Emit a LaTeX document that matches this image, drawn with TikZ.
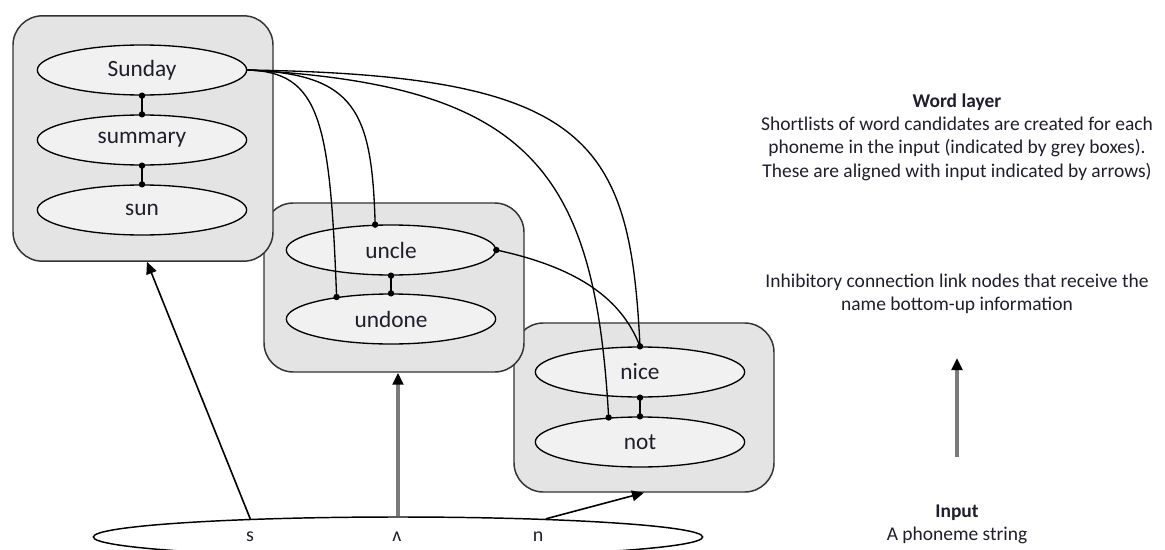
\documentclass[tikz,border=0pt]{standalone}
\usepackage{fontspec}
\setmainfont{Carlito}
\usetikzlibrary{shapes.geometric,arrows.meta,calc}

\definecolor{boxfill}{HTML}{E4E4E4}
\definecolor{ovalfill}{HTML}{F1F1F1}
\definecolor{edge}{HTML}{333333}
\definecolor{ink}{HTML}{1E1E2C}
\definecolor{feed}{HTML}{7A7A7A}

\tikzset{
  group/.style={draw=edge, line width=1.1pt, fill=boxfill, rounded corners=22pt,
    minimum width=195pt, inner sep=0pt},
  word/.style={ellipse, draw=black, line width=1pt, fill=ovalfill, inner sep=0pt,
    minimum width=157pt, minimum height=37.5pt, text=ink,
    font=\fontsize{17.5}{20}\selectfont},
  link/.style={line width=1pt, black},
  up/.style={line width=1.2pt, black, -{Triangle[length=9pt,width=8pt]}},
  upgrey/.style={line width=2.3pt, feed, -{Triangle[length=9pt,width=8pt,black]}},
  note/.style={align=center, text=ink, font=\fontsize{14.6}{17.5}\selectfont},
  phon/.style={text=ink, font=\fontsize{15}{18}\selectfont}
}

\begin{document}
\begin{tikzpicture}[x=0.75pt,y=-0.75pt]
\useasboundingbox (0,0) rectangle (1165,550);

% candidate groups, back to front
\node[group, minimum height=126.75pt] (g3) at (644,407.5) {};
\node[group, minimum height=126.75pt] (g2) at (394,287.5) {};
\node[group, minimum height=184pt] (g1) at (143,138.5) {};

% word candidates
\node[word] (sunday)  at (142,70)  {Sunday};
\node[word] (summary) at (142,140) {summary};
\node[word] (sun)     at (142,210) {sun};
\node[word] (uncle)   at (391,250) {uncle};
\node[word] (undone)  at (391,319) {undone};
\node[word] (nice)    at (640,372) {nice};
\node[word] (not)     at (640,442) {not};

% inhibitory links inside each group
\draw[link] (sunday.south) -- (summary.north);
\draw[link] (summary.south) -- (sun.north);
\draw[link] (uncle.south) -- (undone.north);
\draw[link] (nice.south) -- (not.north);

% inhibitory links between groups
\draw[link] (sunday.east) .. controls (320,72) and (330,120) .. (undone.158);
\draw[link] (sunday.east) .. controls (355,74) and (372,110) .. (uncle.122);
\draw[link] (sunday.east) .. controls (530,85) and (595,170) .. (not.142);
\draw[link] (sunday.east) .. controls (590,75) and (630,140) .. (nice.north);
\draw[link] (uncle.east) .. controls (580,268) and (622,300) .. (nice.north);

% link end points
\foreach \p in {sunday.south, summary.north, summary.south, sun.north,
                uncle.south, undone.north, nice.south, not.north,
                undone.158, uncle.122, not.142, nice.north, uncle.east}
  \fill (\p) circle (2.4pt);

% phoneme string
\node[ellipse, draw=black, line width=1.1pt, inner sep=0pt,
      minimum width=457pt, minimum height=30pt] (input) at (398,537) {};
\node[phon] (ps) at (250,537) {s};
\node[phon] (pv) at (397,537) {ʌ};
\node[phon] (pn) at (538,537) {n};

% bottom-up input
\draw[up] (input.173.5) -- ([xshift=3pt]g1.south);
\draw[upgrey] (input.north) -- (input.north |- g2.south);
\draw[up] (input.7) -- (g3.south);

% explanatory notes
\node[note] (wordlayer) at (957,137) {\textbf{Word layer}\\Shortlists of word candidates are created for each\\phoneme in the input (indicated by grey boxes).\\These are aligned with input indicated by arrows)};
\node[note] (inhib) at (957,294) {Inhibitory connection link nodes that receive the\\name bottom-up information};
\node[note] (inlabel) at (957,524.5) {\textbf{Input}\\A phoneme string};
\coordinate (keyfoot) at (957,457);
\coordinate (keyhead) at (957,358);
\draw[upgrey] (keyfoot) -- (keyhead);
\end{tikzpicture}
\end{document}
